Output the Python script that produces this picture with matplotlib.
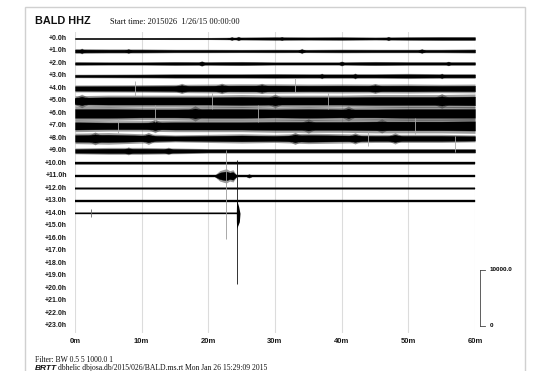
import matplotlib
matplotlib.use("Agg")
import matplotlib.pyplot as plt
from matplotlib.patches import Rectangle

W, H = 558, 371

station = "BALD HHZ"
start_label = "Start time: 2015026  1/26/15 00:00:00"
filter_label = "Filter: BW 0.5 5 1000.0 1"
footer_label = "dbhelic dbjosa.db/2015/026/BALD.ms.rt Mon Jan 26 15:29:09 2015"

hour_labels = ["+%.1fh" % h for h in range(24)]
minute_ticks = [0, 10, 20, 30, 40, 50, 60]
minute_labels = ["0m", "10m", "20m", "30m", "40m", "50m", "60m"]

# half amplitude of each hour trace (counts), read every 5 minutes
node_minutes = [0, 5, 10, 15, 20, 25, 30, 35, 40, 45, 50, 55, 60]
envelope = [
    [140, 140, 150, 160, 160, 230, 270, 250, 270, 230, 270, 290, 290],
    [360, 330, 330, 270, 270, 250, 270, 250, 290, 270, 270, 270, 330],
    [270, 250, 250, 290, 270, 310, 250, 250, 250, 310, 270, 270, 270],
    [270, 290, 320, 360, 360, 360, 380, 360, 360, 360, 400, 360, 360],
    [540, 560, 580, 630, 680, 720, 720, 680, 700, 680, 700, 650, 680],
    [810, 900, 900, 900, 900, 990, 900, 900, 900, 990, 990, 990, 1080],
    [1080, 1080, 990, 990, 1080, 1080, 990, 1080, 990, 990, 1080, 1080, 1080],
    [900, 810, 810, 900, 900, 900, 990, 990, 990, 1080, 1080, 1080, 1150],
    [810, 900, 720, 540, 630, 720, 630, 810, 720, 630, 630, 630, 540],
    [450, 540, 540, 450, 360, 360, 360, 360, 360, 360, 360, 360, 360],
    [220, 220, 220, 220, 220, 220, 220, 220, 220, 220, 220, 220, 220],
    [180, 180, 180, 180, 180, 180, 180, 180, 180, 180, 180, 180, 180],
    [180, 180, 180, 180, 180, 180, 180, 180, 180, 180, 180, 180, 180],
    [180, 180, 180, 180, 180, 180, 180, 180, 180, 180, 180, 180, 180],
]
# last (partial) hour
last_row = 14
last_minutes = [0, 5, 10, 15, 20, 24.25]
last_envelope = [180, 180, 180, 180, 180, 180]

# local bursts: row, minute, half amplitude (counts), half width (minutes)
burst_rows = [0, 0, 0, 0, 1, 1, 1, 1, 2, 2, 2, 3, 3, 3,
              4, 4, 4, 4, 5, 5, 5, 6, 6, 7, 7, 7,
              8, 8, 8, 8, 8, 9, 9, 11]
burst_minutes = [23.5, 24.5, 31, 47, 1, 8, 34, 52, 19, 40, 56, 37, 42, 55,
                 16, 22, 28, 45, 1, 30, 55, 18, 41, 12, 35, 46,
                 3, 11, 33, 42, 48, 8, 14, 26.1]
burst_amps = [300, 340, 300, 330, 450, 400, 420, 400, 460, 400, 360, 440, 460, 440,
              800, 820, 800, 780, 1050, 1080, 1150, 1200, 1150, 1050, 1120, 1100,
              1000, 950, 950, 880, 880, 620, 580, 360]
burst_widths = [0.7, 0.7, 0.7, 0.7, 0.7, 0.7, 0.7, 0.7, 0.7, 0.7, 0.7, 0.7, 0.7, 0.7,
                2.0, 2.0, 2.0, 2.0, 2.0, 2.0, 2.0, 2.0, 2.0, 2.0, 2.0, 2.0,
                1.8, 1.8, 1.8, 1.8, 1.8, 1.2, 1.2, 0.6]

# event on hour 11
event_row = 11
event_minutes = [21.0, 21.7, 22.3, 22.7, 23.2, 23.7, 24.2]
event_amps = [180, 800, 1000, 1100, 800, 950, 180]

# spikes: row, minute, up (counts), down (counts), colour
spike_rows = [11, 14, 14, 4, 6, 8, 7, 5, 5, 6, 7, 4, 8]
spike_minutes = [22.7, 24.25, 2.4, 33.0, 12.0, 57.0, 6.5, 20.5, 38.0, 27.5, 51.0, 9.0, 44.0]
spike_up = [4700, 9500, 700, 1800, 1500, 500, 1300, 1500, 1400, 1500, 1400, 1300, 1300]
spike_down = [11200, 12600, 700, 600, 1500, 2500, 1300, 1500, 1400, 1500, 1400, 1300, 1300]
spike_colors = ["#9a9a9a", "#111111", "#666666", "#aaaaaa", "#aaaaaa", "#aaaaaa",
                "#aaaaaa", "#aaaaaa", "#aaaaaa", "#aaaaaa", "#aaaaaa", "#aaaaaa", "#aaaaaa"]

# bulge of the big arrival at the end of hour 14
bulge_counts = [2400, 1200, 0, -1500, -2700]
bulge_width = [0.0, 0.3, 0.5, 0.4, 0.0]

scale_counts = 10000
counts_per_row = 2230


def px_x(p):
    return p / W


def px_y(p):
    return 1 - p / H


fig = plt.figure(figsize=(W / 100, H / 100), dpi=100)
fig.patches.append(Rectangle((px_x(25), -0.1), px_x(500), px_y(7) + 0.1,
                             transform=fig.transFigure, fill=False,
                             edgecolor="#d0d0d0", lw=1.0))

ax = fig.add_axes([px_x(75), px_y(333), px_x(400), (333 - 32) / H])
row_top = (32 - 38.5) / 12.487
row_bot = (333 - 38.5) / 12.487
ax.set_xlim(0, 60)
ax.set_ylim(row_bot, row_top)
ax.axis("off")

for m in minute_ticks:
    ax.axvline(m, color="#dcdcdc", lw=0.8, zorder=0)


def band(row, xs, amps, z=2):
    # grey fringe for the full swing, black core for the dense part
    ax.fill_between(xs, [row - 1.15 * a / counts_per_row for a in amps],
                    [row + 1.15 * a / counts_per_row for a in amps],
                    color="#3a3a3a", alpha=0.5, lw=0, zorder=z)
    ax.fill_between(xs, [row - 0.72 * a / counts_per_row for a in amps],
                    [row + 0.72 * a / counts_per_row for a in amps],
                    color="black", lw=0.25, zorder=z + 1)


for r, amps in enumerate(envelope):
    band(r, node_minutes, amps)
band(last_row, last_minutes, last_envelope)
band(event_row, event_minutes, event_amps)

for r, m, a, w in zip(burst_rows, burst_minutes, burst_amps, burst_widths):
    band(r, [m - w, m, m + w], [0, a, 0])

for r, m, u, d, c in zip(spike_rows, spike_minutes, spike_up, spike_down, spike_colors):
    ax.plot([m, m], [r - u / counts_per_row, r + d / counts_per_row],
            color=c, lw=0.6, zorder=4, solid_capstyle="butt")

ax.fill_betweenx([last_row - b / counts_per_row for b in bulge_counts],
                 [last_minutes[-1] - 0.1 * w for w in bulge_width],
                 [last_minutes[-1] + w for w in bulge_width],
                 color="black", lw=0, zorder=5)

for r, lab in enumerate(hour_labels):
    ax.text(-1.2, r, lab, ha="right", va="center", fontsize=5,
            fontweight="bold", family="Liberation Sans", color="#1a1a1a",
            clip_on=False)

for m, lab in zip(minute_ticks, minute_labels):
    ax.text(m, 24.3, lab, ha="center", va="center", fontsize=5.5,
            fontweight="bold", family="Liberation Sans", color="#1a1a1a",
            clip_on=False)

# amplitude scale bar
sx = 60.75
top = 23 - scale_counts / counts_per_row
ax.plot([sx, sx], [23, top], color="#444444", lw=0.6, clip_on=False)
ax.plot([sx, sx + 0.7], [23, 23], color="#444444", lw=0.6, clip_on=False)
ax.plot([sx, sx + 0.7], [top, top], color="#444444", lw=0.6, clip_on=False)
ax.text(sx + 1.5, top, "%.1f" % scale_counts, ha="left", va="center",
        fontsize=4.5, fontweight="bold", family="Liberation Sans", clip_on=False)
ax.text(sx + 1.5, 23, "0", ha="left", va="center",
        fontsize=4.5, fontweight="bold", family="Liberation Sans", clip_on=False)

fig.text(px_x(35), px_y(20.5), station, ha="left", va="center", fontsize=7.8,
         fontweight="bold", family="Liberation Sans", color="#111111")
fig.text(px_x(110), px_y(22), start_label, ha="left", va="center", fontsize=6,
         family="Liberation Serif", color="#111111")
fig.text(px_x(35), px_y(360), filter_label, ha="left", va="center", fontsize=5.5,
         family="Liberation Serif", color="#111111")
fig.text(px_x(35), px_y(368.5), "BRTT", ha="left", va="center", fontsize=6,
         fontweight="bold", style="italic", family="Liberation Sans", color="#111111")
fig.text(px_x(58), px_y(368.5), footer_label, ha="left", va="center", fontsize=5.5,
         family="Liberation Serif", color="#111111")

fig.savefig("out.png", dpi=100)
